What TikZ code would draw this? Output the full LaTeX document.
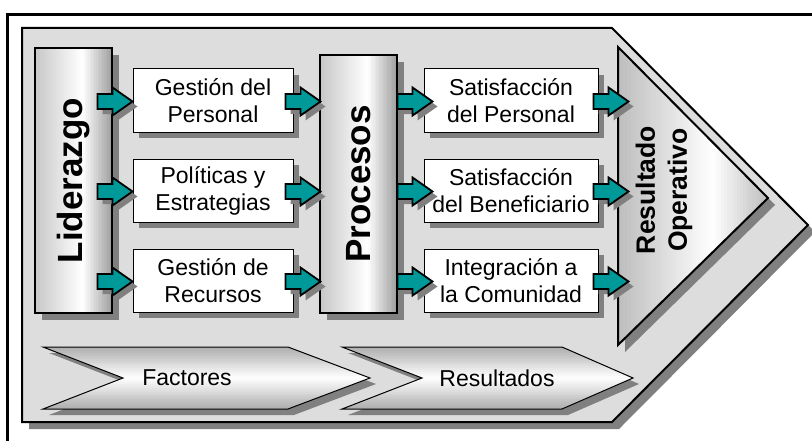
\documentclass[tikz,border=0pt]{standalone}
\usepackage{fontspec}
\setmainfont{Liberation Sans}
\usetikzlibrary{calc,shadows}

\definecolor{fondo}{HTML}{DDDDDD}
\definecolor{sombra}{HTML}{808080}
\definecolor{verdeazul}{HTML}{009999}

% degradado horizontal: gris izq., posicion del blanco, gris der.
\newcommand\franjash[3]{%
  \foreach \i in {0,...,47}{%
    \pgfmathsetmacro\t{(\i+0.5)/48}%
    \pgfmathsetmacro\p{\t<#2 ? #1*(1-\t/#2) : #3*(\t-#2)/(1-#2)}%
    \fill[black!\p] ($(path picture bounding box.south west)!{\i/48}!(path picture bounding box.south east)$)
      rectangle ($(path picture bounding box.north west)!{(\i+1.1)/48}!(path picture bounding box.north east)$);
  }}
% degradado vertical: gris abajo, posicion del blanco, gris arriba
\newcommand\franjasv[3]{%
  \foreach \i in {0,...,31}{%
    \pgfmathsetmacro\t{(\i+0.5)/32}%
    \pgfmathsetmacro\p{\t<#2 ? #1*(1-\t/#2) : #3*(\t-#2)/(1-#2)}%
    \fill[black!\p] ($(path picture bounding box.south west)!{\i/32}!(path picture bounding box.north west)$)
      rectangle ($(path picture bounding box.south east)!{(\i+1.1)/32}!(path picture bounding box.north east)$);
  }}
\newcommand\flechon[4]{(#1,93) -- (#2,93) -- (#3,62) -- (#2,31) -- (#1,31) -- (#4,62) -- cycle}

\tikzset{
  sombreado/.style={general shadow={fill=sombra,shadow xshift=#1,shadow yshift=-#1}},
  caja/.style={draw,line width=0.5pt,fill=white,minimum height=31.5pt,inner sep=0pt,
    align=center,font=\fontsize{11.5}{13.5}\selectfont,sombreado=3pt},
  barra/.style={draw,line width=1pt,fill=white,path picture={\franjash{22}{0.62}{38}},
    minimum width=38.5pt,inner sep=0pt,font=\fontsize{17.5}{20}\selectfont\bfseries},
  chevron/.style={draw,line width=0.5pt,fill=white,path picture={\franjasv{32}{0.5}{32}}},
  etiqueta/.style={font=\fontsize{11.5}{13.5}\selectfont},
  flecha/.pic={
    \draw[line width=0.9pt,fill=verdeazul,sombreado=2.5pt] (0,-7.5) -- (15,-7.5) -- (15,-14)
      -- (35,0) -- (15,14) -- (15,7.5) -- (0,7.5) -- cycle;
  }
}

\begin{document}
\begin{tikzpicture}[x=0.5pt,y=0.5pt]
\useasboundingbox (0,0) rectangle (812,440);
\clip (0,0) rectangle (812,440);

% marco
\draw[line width=1.5pt] (7,-20) rectangle (840,425);

% flecha de fondo
\draw[line width=1pt,fill=fondo,sombreado=3.5pt] (22,412) -- (612,412) -- (808,215)
  -- (612,18) -- (22,18) -- cycle;

% factores y resultados
\fill[sombra,shift={(6,-6)}] \flechon{43}{288}{370}{123};
\draw[chevron] \flechon{43}{288}{370}{123};
\fill[sombra,shift={(6,-6)}] \flechon{342}{562}{633}{422};
\draw[chevron] \flechon{342}{562}{633}{422};
\node[etiqueta] (fac) at (187,62) {Factores};
\node[etiqueta] (resu) at (497,62) {Resultados};

% resultado operativo
\fill[sombra] (625,386) -- (775,235) -- (625,88) -- cycle;
\draw[line width=1pt,fill=white,path picture={\franjash{26}{0.63}{26}}]
  (618,393) -- (768,242) -- (618,95) -- cycle;
\node[rotate=90,align=center,font=\fontsize{13.25}{16}\selectfont\bfseries] (res) at (664,250)
  {Resultado\\Operativo};

% barras
\fill[sombra] (42,120) rectangle (119,385);
\fill[sombra] (327,120) rectangle (404,378);
\node[barra,minimum height=132.5pt] (lid) at (73.5,259.5) {\rotatebox{90}{Liderazgo}};
\node[barra,minimum height=129pt] (pro) at (358.5,256) {\rotatebox{90}{Procesos}};

% cajas
\node[caja,minimum width=80pt] (g1) at (213,339.5) {Gestión del\\Personal};
\node[caja,minimum width=80pt] (g2) at (213,249.5) {Políticas y\\Estrategias};
\node[caja,minimum width=80pt] (g3) at (213,159.5) {Gestión de\\Recursos};
\node[caja,minimum width=87pt] (s1) at (511,339.5) {Satisfacción\\del Personal};
\node[caja,minimum width=87pt] (s2) at (511,249.5) {Satisfacción\\del Beneficiario};
\node[caja,minimum width=87pt] (s3) at (511,159.5) {Integración a\\la Comunidad};

% flechas
\foreach \n in {1,2,3}{
  \pic at ($(g\n.west)+(-35,-1)$) {flecha};
  \pic at ($(g\n.east)+(-8,-1)$) {flecha};
  \pic at ($(s\n.west)+(-26,-1)$) {flecha};
  \pic at ($(s\n.east)+(-5,-1)$) {flecha};
}

\end{tikzpicture}
\end{document}
